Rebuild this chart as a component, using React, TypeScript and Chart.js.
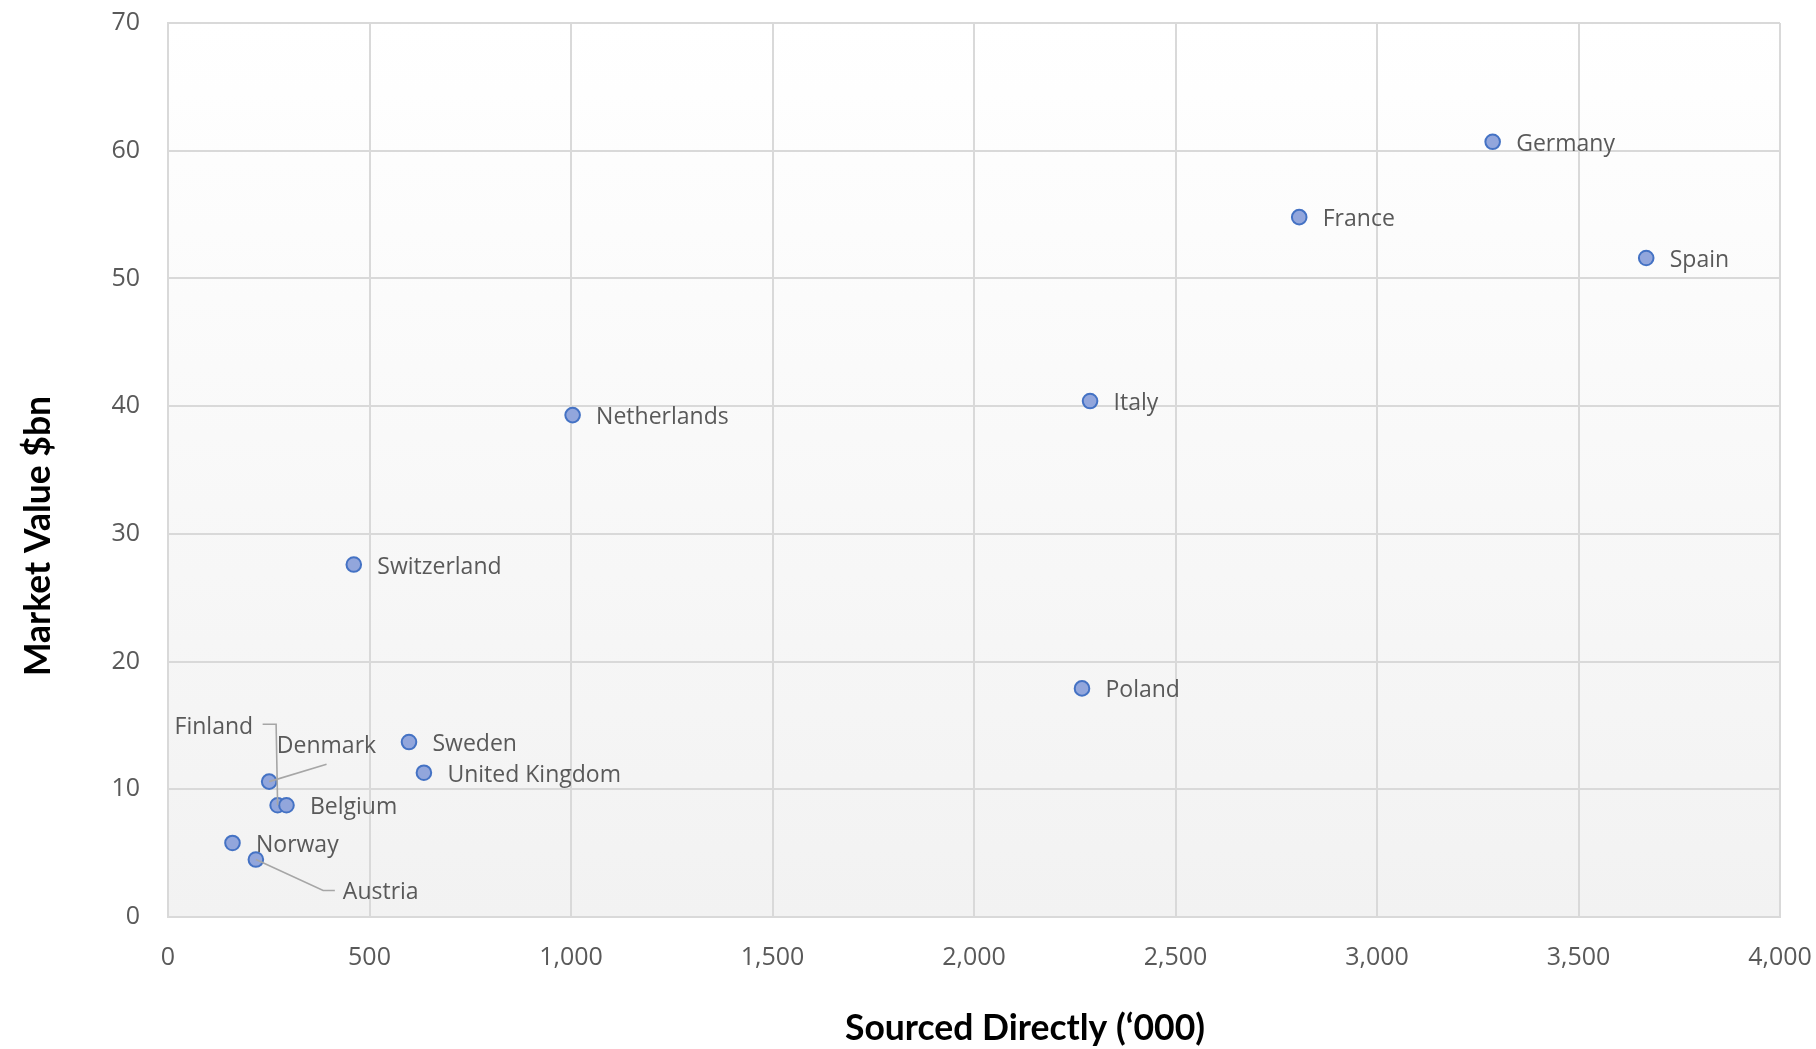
import React, { useEffect, useRef } from "react";
import { Chart, registerables } from "chart.js";

Chart.register(...registerables);

// ---------- data ----------
const countries = [
  "Germany",
  "France",
  "Spain",
  "Italy",
  "Netherlands",
  "Switzerland",
  "Poland",
  "Sweden",
  "United Kingdom",
  "Denmark",
  "Finland",
  "Belgium",
  "Norway",
  "Austria",
];
const sourcedDirectly = [3287, 2807, 3668, 2288, 1004, 461, 2268, 598, 635, 251, 272, 294, 160, 218];
const marketValue = [60.7, 54.8, 51.6, 40.4, 39.3, 27.6, 17.9, 13.7, 11.3, 10.6, 8.75, 8.75, 5.8, 4.5];
const xTickValues = [0, 500, 1000, 1500, 2000, 2500, 3000, 3500, 4000];
const yTickValues = [0, 10, 20, 30, 40, 50, 60, 70];
const xTitle = "Sourced Directly (\u2018000)";
const yTitle = "Market Value $bn";

// ---------- label placement (styling, px relative to point) ----------
type Placement = { dx: number; dy: number; align: CanvasTextAlign; leader?: [number, number][] };
const defaultPlacement: Placement = { dx: 23.5, dy: 9, align: "left" };
const specialPlacement: Record<string, Placement> = {
  Finland: { dx: -24.5, dy: -71.3, align: "right", leader: [[-15, -81], [-1.5, -81], [0, 0]] },
  Denmark: { dx: 7.7, dy: -29, align: "left", leader: [[57.4, -17.4], [0, 0]] },
  Austria: { dx: 87, dy: 39.3, align: "left", leader: [[0, 0], [67.3, 31], [79, 31]] },
};

const TICK_FONT = "'Open Sans', 'Noto Sans', sans-serif";
const TITLE_FONT = "Lato, 'Open Sans', sans-serif";

const bgPlugin = {
  id: "plotBg",
  beforeDraw(chart: any) {
    const { ctx, chartArea } = chart;
    const g = ctx.createLinearGradient(0, chartArea.top, 0, chartArea.bottom);
    g.addColorStop(0, "#FFFFFF");
    g.addColorStop(1, "#F2F2F2");
    ctx.save();
    ctx.fillStyle = g;
    ctx.fillRect(chartArea.left, chartArea.top, chartArea.right - chartArea.left, chartArea.bottom - chartArea.top);
    ctx.restore();
  },
};

const labelPlugin = {
  id: "pointLabels",
  afterDatasetsDraw(chart: any) {
    const { ctx } = chart;
    const meta = chart.getDatasetMeta(0);
    ctx.save();
    ctx.strokeStyle = "#A6A6A6";
    ctx.lineWidth = 1.6;
    meta.data.forEach((pt: any, i: number) => {
      const p = specialPlacement[countries[i]];
      if (p && p.leader) {
        ctx.beginPath();
        p.leader.forEach(([lx, ly], k) => {
          if (k === 0) ctx.moveTo(pt.x + lx, pt.y + ly);
          else ctx.lineTo(pt.x + lx, pt.y + ly);
        });
        ctx.stroke();
      }
    });
    ctx.font = `23px ${TICK_FONT}`;
    ctx.fillStyle = "#595959";
    ctx.textBaseline = "alphabetic";
    meta.data.forEach((pt: any, i: number) => {
      const p = specialPlacement[countries[i]] || defaultPlacement;
      ctx.textAlign = p.align;
      ctx.fillText(countries[i], pt.x + p.dx, pt.y + p.dy);
    });
    ctx.restore();
  },
};

const titlePlugin = {
  id: "axisTitles",
  afterDraw(chart: any) {
    const { ctx } = chart;
    ctx.save();
    ctx.fillStyle = "#000000";
    ctx.font = `bold 35.5px ${TITLE_FONT}`;
    ctx.textAlign = "center";
    ctx.textBaseline = "alphabetic";
    ctx.fillText(xTitle, 1025, 1040);
    ctx.translate(50, 536);
    ctx.rotate(-Math.PI / 2);
    ctx.fillText(yTitle, 0, 0);
    ctx.restore();
  },
};

const zeroPadding = (scale: any) => {
  scale.paddingLeft = 0;
  scale.paddingRight = 0;
  scale.paddingTop = 0;
  scale.paddingBottom = 0;
};

export default function App() {
  const canvasRef = useRef<HTMLCanvasElement | null>(null);

  useEffect(() => {
    if (!canvasRef.current) return;
    const points = sourcedDirectly.map((x, i) => ({ x, y: marketValue[i] }));
    const chart = new Chart(canvasRef.current, {
      type: "scatter",
      data: {
        datasets: [
          {
            label: "Countries",
            data: points,
            pointRadius: 7.3,
            pointHoverRadius: 7.3,
            pointBackgroundColor: "#92A6DC",
            pointBorderColor: "#4472C4",
            pointBorderWidth: 2,
          },
        ],
      },
      options: {
        animation: false,
        responsive: false,
        maintainAspectRatio: false,
        devicePixelRatio: 1,
        layout: { padding: { left: 0, top: 23, right: 36, bottom: 0 } },
        plugins: {
          legend: { display: false },
          tooltip: { enabled: false },
          title: { display: false },
        },
        scales: {
          x: {
            type: "linear",
            min: 0,
            max: 4000,
            afterBuildTicks: (scale: any) => {
              scale.ticks = xTickValues.map((v) => ({ value: v }));
            },
            afterFit: (scale: any) => {
              scale.height = 132;
              zeroPadding(scale);
            },
            grid: { color: "#D9D9D9", lineWidth: 2, drawTicks: false },
            border: { color: "#D9D9D9", width: 2 },
            ticks: {
              padding: 26,
              color: "#595959",
              font: { family: TICK_FONT, size: 25 },
              callback: (v: any) => Number(v).toLocaleString("en-US"),
            },
          },
          y: {
            type: "linear",
            min: 0,
            max: 70,
            afterBuildTicks: (scale: any) => {
              scale.ticks = yTickValues.map((v) => ({ value: v }));
            },
            afterFit: (scale: any) => {
              scale.width = 168;
              zeroPadding(scale);
            },
            grid: { color: "#D9D9D9", lineWidth: 2, drawTicks: false },
            border: { color: "#D9D9D9", width: 2 },
            ticks: {
              padding: 28,
              color: "#595959",
              font: { family: TICK_FONT, size: 25 },
              callback: (v: any) => String(v),
            },
          },
        },
      },
      plugins: [bgPlugin, labelPlugin, titlePlugin],
    });
    return () => chart.destroy();
  }, []);

  return (
    <div style={{ position: "absolute", left: 0, top: 0, width: 1816, height: 1049, background: "#FFFFFF" }}>
      <canvas ref={canvasRef} width={1816} height={1049} style={{ width: 1816, height: 1049, display: "block" }} />
    </div>
  );
}
